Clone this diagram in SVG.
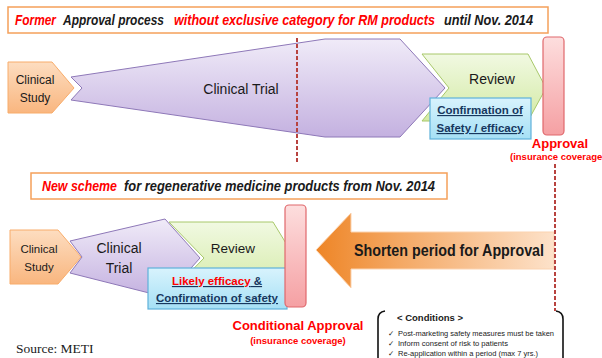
<svg xmlns="http://www.w3.org/2000/svg" width="602" height="358" viewBox="0 0 602 358">
  <defs>
    <linearGradient id="gOrange" x1="0" y1="0" x2="0" y2="1">
      <stop offset="0" stop-color="#FDDDC0"/>
      <stop offset="1" stop-color="#F9B67F"/>
    </linearGradient>
    <linearGradient id="gPurple" x1="0" y1="0" x2="0" y2="1">
      <stop offset="0" stop-color="#F0EBF8"/>
      <stop offset="1" stop-color="#C4B1E0"/>
    </linearGradient>
    <linearGradient id="gGreen" x1="0" y1="0" x2="0" y2="1">
      <stop offset="0" stop-color="#F1F9E2"/>
      <stop offset="1" stop-color="#D3EAA4"/>
    </linearGradient>
    <linearGradient id="gBlue" x1="0" y1="0" x2="0" y2="1">
      <stop offset="0" stop-color="#D8F3FD"/>
      <stop offset="1" stop-color="#A6E0F5"/>
    </linearGradient>
    <linearGradient id="gPink" x1="0" y1="0" x2="0" y2="1">
      <stop offset="0" stop-color="#FDDEDE"/>
      <stop offset="1" stop-color="#F5A0A3"/>
    </linearGradient>
    <linearGradient id="gArrow" x1="316" y1="0" x2="554" y2="0" gradientUnits="userSpaceOnUse">
      <stop offset="0" stop-color="#EE8526"/>
      <stop offset="0.35" stop-color="#F4A864"/>
      <stop offset="1" stop-color="#FDE2CA"/>
    </linearGradient>
    <style>
      .title { fill: #ffffff; stroke: #F5A05A; stroke-width: 1.5; }
      .orange { fill: url(#gOrange); stroke: #F8AC6A; stroke-width: 1; }
      .purple { fill: url(#gPurple); stroke: #8E78B8; stroke-width: 1; }
      .green { fill: url(#gGreen); stroke: #A8C86A; stroke-width: 1; }
      .blue { fill: url(#gBlue); stroke: #5FB1DA; stroke-width: 1.2; }
      .pink { fill: url(#gPink); stroke: #E0686C; stroke-width: 1.2; }
      .dash { stroke: #B8433F; stroke-width: 2; stroke-dasharray: 4 2; fill: none; }
      .brace { stroke: #111111; stroke-width: 1.6; fill: none; }
      text { font-family: "Liberation Sans", Arial, sans-serif; fill: #1a1a1a; }
      .ttl { font-size: 15px; font-style: italic; font-weight: bold; }
      .red { fill: #FF0000; }
      .lbl { text-anchor: middle; }
      .navy { fill: #17375E; font-weight: bold; text-decoration: underline; text-anchor: middle; font-size: 11.5px; }
      .appr { fill: #FF0000; font-weight: bold; text-anchor: middle; }
      .cond { font-size: 8px; }
      .chk { font-family: "DejaVu Sans", sans-serif; font-size: 7.5px; }
    </style>
  </defs>

  <rect width="602" height="358" fill="#ffffff"/>

  <!-- Former process -->
  <g id="title-former">
    <rect class="title" x="8" y="7" width="540" height="26"/>
    <text class="ttl red" x="15" y="25" textLength="41" lengthAdjust="spacingAndGlyphs">Former</text>
    <text class="ttl" x="63" y="25" textLength="101" lengthAdjust="spacingAndGlyphs">Approval process</text>
    <text class="ttl red" x="174" y="25" textLength="261" lengthAdjust="spacingAndGlyphs">without exclusive category for RM products</text>
    <text class="ttl" x="444" y="25" textLength="89" lengthAdjust="spacingAndGlyphs">until Nov. 2014</text>
  </g>

  <g id="former-clinical-study">
    <polygon class="orange" points="8,62 52,62 74,88 52,113 8,113"/>
    <text class="lbl" x="35" y="84" font-size="12">Clinical</text>
    <text class="lbl" x="35" y="102" font-size="12">Study</text>
  </g>

  <g id="former-review">
    <polygon class="green" points="422,54 528,54 546,88 528,121 422,121 449,88"/>
    <text class="lbl" x="492" y="84" font-size="14">Review</text>
  </g>

  <g id="former-clinical-trial">
    <polygon class="purple" points="71,77 325,39 400,39 445,88 400,137 325,137 71,100 82,88"/>
    <text class="lbl" x="241" y="94" font-size="14">Clinical Trial</text>
  </g>

  <g id="former-confirmation">
    <rect class="blue" x="430" y="98" width="101" height="41"/>
    <text class="navy" x="480" y="114">Confirmation of</text>
    <text class="navy" x="480" y="132">Safety / efficacy</text>
  </g>

  <g id="former-approval">
    <rect class="pink" x="543" y="37" width="21" height="98" rx="4"/>
    <text class="appr" x="560" y="148" font-size="13">Approval</text>
    <text class="appr" x="510" y="160" font-size="9.5" style="text-anchor:start">(insurance coverage)</text>
  </g>

  <!-- New scheme -->
  <g id="title-new">
    <rect class="title" x="31" y="173" width="416" height="26"/>
    <text class="ttl red" x="42" y="191" textLength="75" lengthAdjust="spacingAndGlyphs">New scheme</text>
    <text class="ttl" x="124" y="191" textLength="311" lengthAdjust="spacingAndGlyphs">for regenerative medicine products from Nov. 2014</text>
  </g>

  <g id="new-clinical-study">
    <polygon class="orange" points="10,230 58,230 81,257 58,284 10,284"/>
    <text class="lbl" x="39" y="253" font-size="11.5">Clinical</text>
    <text class="lbl" x="39" y="271" font-size="11.5">Study</text>
  </g>

  <g id="new-review">
    <polygon class="green" points="169,222 273,222 295,258 273,294 169,294 204,258"/>
    <text class="lbl" x="233" y="253" font-size="13.5">Review</text>
  </g>

  <g id="new-clinical-trial">
    <polygon class="purple" points="70,241 165,219 200,258 165,297 70,273 82,257"/>
    <text class="lbl" x="119" y="253" font-size="14">Clinical</text>
    <text class="lbl" x="119" y="273" font-size="14">Trial</text>
  </g>

  <g id="new-confirmation">
    <rect class="blue" x="148" y="268" width="139" height="41"/>
    <text class="navy" x="217" y="285"><tspan fill="#FF0000">Likely efficacy</tspan> &amp;</text>
    <text class="navy" x="217" y="302"> Confirmation of safety</text>
  </g>

  <g id="conditional-approval">
    <rect class="pink" x="285" y="205" width="21" height="102" rx="4"/>
    <text class="appr" x="298" y="330" font-size="13">Conditional Approval</text>
    <text class="appr" x="298" y="344" font-size="9.5">(insurance coverage)</text>
  </g>

  <g id="shorten-arrow">
    <polygon points="316,250 351,213 351,232 554,232 554,269 351,269 351,288" fill="url(#gArrow)" stroke="#FBD3B0" stroke-width="1"/>
    <text x="449" y="256" text-anchor="middle" font-size="16" font-weight="bold" textLength="190" lengthAdjust="spacingAndGlyphs">Shorten period for Approval</text>
  </g>

  <g id="conditions">
    <path class="brace" d="M385,311 Q378,312 378,319 L378,358"/>
    <path class="brace" d="M556,311 Q563,312 563,319 L563,358"/>
    <text x="430" y="321" text-anchor="middle" font-size="9.5" font-weight="bold">&lt; Conditions &gt;</text>
    <text class="chk" x="388" y="336">✓</text>
    <text class="cond" x="398" y="336" textLength="156" lengthAdjust="spacingAndGlyphs">Post-marketing safety measures must be taken</text>
    <text class="chk" x="388" y="346">✓</text>
    <text class="cond" x="398" y="346" textLength="110" lengthAdjust="spacingAndGlyphs">Inform consent of risk to patients</text>
    <text class="chk" x="388" y="356">✓</text>
    <text class="cond" x="398" y="356" textLength="140" lengthAdjust="spacingAndGlyphs">Re-application within a period (max 7 yrs.)</text>
  </g>

  <!-- dashed reference lines -->
  <g id="connectors">
    <line class="dash" x1="297" y1="38" x2="297" y2="164"/>
    <line class="dash" x1="555" y1="164" x2="555" y2="311"/>
  </g>

  <text x="16" y="353" style="font-family:'Liberation Serif','Times New Roman',serif" font-size="13.5">Source: METI</text>
</svg>
